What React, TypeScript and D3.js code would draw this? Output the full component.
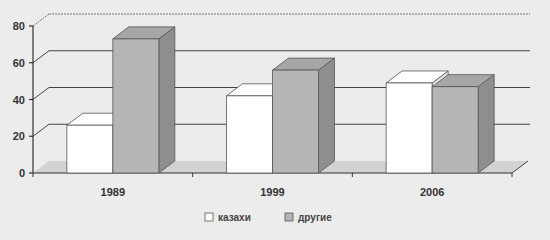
import React from "react";
import * as d3 from "d3";

const categories = ["1989", "1999", "2006"];
const seriesNames = ["казахи", "другие"];
const kazakhs = [26, 42, 49];
const others = [73, 56, 47];
const yTicks = [0, 20, 40, 60, 80];

const W = 550;
const H = 240;
const DX = 16;
const DY = -12;

export default function App() {
  const x0 = 33;
  const x1 = 512;
  const y = d3.scaleLinear().domain([0, 80]).range([173, 26]);
  const xBand = d3.scaleBand<string>().domain(categories).range([x0, x1]).paddingInner(0).paddingOuter(0);
  const xSub = d3.scaleBand<string>().domain(seriesNames).range([0, 92]);
  const groupOffset = (xBand.bandwidth() - 92) / 2;
  const series = [kazakhs, others];
  const fronts = ["#ffffff", "#b5b5b5"];
  const sides = ["#e6e6e6", "#8e8e8e"];
  const tops = ["#ffffff", "#a6a6a6"];
  const font = "'Liberation Sans', Arial, sans-serif";

  const bars: React.ReactNode[] = [];
  categories.forEach((c, ci) => {
    seriesNames.forEach((s, si) => {
      const v = series[si][ci];
      const bx = (xBand(c) as number) + groupOffset + (xSub(s) as number);
      const bw = xSub.bandwidth();
      const yt = y(v);
      const yb = y(0);
      bars.push(
        <g key={c + s} stroke="#555" strokeWidth={0.8} strokeLinejoin="round">
          <polygon
            points={`${bx + bw},${yb} ${bx + bw + DX},${yb + DY} ${bx + bw + DX},${yt + DY} ${bx + bw},${yt}`}
            fill={sides[si]}
          />
          <polygon
            points={`${bx},${yt} ${bx + DX},${yt + DY} ${bx + bw + DX},${yt + DY} ${bx + bw},${yt}`}
            fill={tops[si]}
          />
          <rect x={bx} y={yt} width={bw} height={yb - yt} fill={fronts[si]} />
        </g>
      );
    });
  });

  return (
    <svg
      width={W}
      height={H}
      style={{ position: "absolute", left: 0, top: 0, background: "#ececec" }}
      fontFamily={font}
    >
      <defs>
        <pattern id="dither" width="2" height="2" patternUnits="userSpaceOnUse">
          <rect width="2" height="2" fill="none" />
          <rect width="1" height="1" fill="rgba(0,0,0,0.12)" />
        </pattern>
      </defs>
      {/* floor */}
      <polygon
        points={`${x0},${y(0)} ${x0 + DX},${y(0) + DY} ${x1 + DX},${y(0) + DY} ${x1},${y(0)}`}
        fill="#d2d2d2"
        stroke="none"
      />
      {/* gridlines */}
      {yTicks.filter((t) => t > 0).map((t) => (
        <g key={t} stroke={t === 80 ? "#777" : "#444"} strokeWidth={1} strokeDasharray={t === 80 ? "2,1" : undefined}>
          <line x1={x0} y1={y(t)} x2={x0 + DX} y2={y(t) + DY} />
          <line x1={x0 + DX} y1={y(t) + DY} x2={x1 + DX + 2} y2={y(t) + DY} />
        </g>
      ))}
      {/* y axis */}
      <line x1={x0} y1={y(0)} x2={x0} y2={y(80)} stroke="#333" strokeWidth={1.2} />
      {yTicks.map((t) => (
        <g key={t}>
          <line x1={x0 - 4} y1={y(t)} x2={x0} y2={y(t)} stroke="#333" strokeWidth={1.2} />
          <text x={x0 - 8} y={y(t) + 4} textAnchor="end" fontSize={11} fontWeight="bold" fill="#333">
            {t}
          </text>
        </g>
      ))}
      {/* x axis */}
      <line x1={x0} y1={y(0)} x2={x1} y2={y(0)} stroke="#333" strokeWidth={1.2} />
      <line x1={x1} y1={y(0)} x2={x1 + DX} y2={y(0) + DY} stroke="#444" strokeWidth={1} />
      {categories.map((c, i) => (
        <line
          key={"t" + c}
          x1={(xBand(c) as number) + (i === 0 ? 0 : 0)}
          y1={y(0)}
          x2={xBand(c) as number}
          y2={y(0) + 4}
          stroke="#333"
          strokeWidth={1}
        />
      ))}
      <line x1={x1} y1={y(0)} x2={x1} y2={y(0) + 4} stroke="#333" strokeWidth={1} />
      {bars}
      {categories.map((c) => (
        <text
          key={"l" + c}
          x={(xBand(c) as number) + xBand.bandwidth() / 2}
          y={196}
          textAnchor="middle"
          fontSize={11}
          fontWeight="bold"
          fill="#333"
        >
          {c}
        </text>
      ))}
      {/* legend */}
      {seriesNames.map((s, i) => (
        <g key={"lg" + s} transform={`translate(${205 + i * 80},213)`}>
          <rect x={0} y={0} width={8} height={8} fill={fronts[i]} stroke="#555" strokeWidth={0.8} />
          <text x={13} y={8} fontSize={10} fontWeight="bold" fill="#444">
            {s}
          </text>
        </g>
      ))}
    </svg>
  );
}
